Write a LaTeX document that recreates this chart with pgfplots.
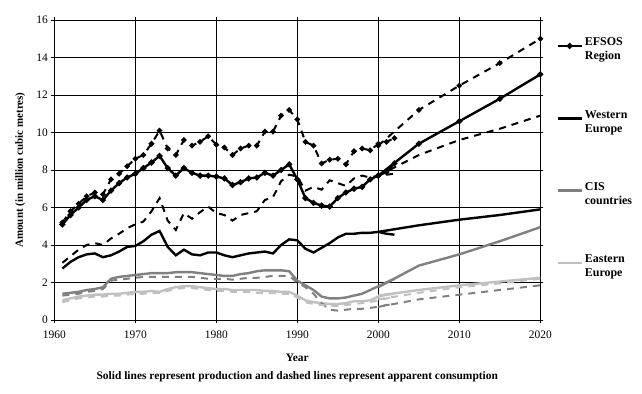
\documentclass[border=0pt]{standalone}
\usepackage{fontspec}
\setmainfont{Liberation Serif}
\usepackage{pgfplots}
\pgfplotsset{compat=1.18}
\definecolor{cisgray}{RGB}{128,128,128}
\definecolor{eegray}{RGB}{192,192,192}
\newcommand{\legtxt}[2]{\begin{tabular}[t]{@{}l@{}}#1\\#2\end{tabular}}
\begin{document}
\begin{tikzpicture}
\useasboundingbox (-54.3bp,-74bp) rectangle (587.7bp,320bp);
\begin{axis}[
  scale only axis, width=486bp, height=300bp,
  xmin=1960, xmax=2020, ymin=0, ymax=16,
  xtick={1960,1970,...,2020}, ytick={0,2,...,16},
  grid=major, major grid style={black, line width=0.8bp},
  axis line style={black, line width=0.8bp},
  tick style={black, line width=0.8bp},
  tick align=outside, major tick length=3bp,
  /pgf/number format/assume math mode=true,
  x tick label style={/pgf/number format/1000 sep={}, font=\fontsize{11.5}{13}\selectfont, yshift=-4bp},
  y tick label style={font=\fontsize{11.5}{13}\selectfont},
  ylabel={Amount (in million cubic metres)},
  ylabel style={font=\bfseries\fontsize{11}{13}\selectfont, at={(axis description cs:-0.07,0.5)}, anchor=center, rotate=0},
  xlabel={Year\\[5bp]Solid lines represent production and dashed lines represent apparent consumption},
  xlabel style={font=\bfseries\fontsize{11.5}{14}\selectfont, align=center, at={(axis description cs:0.5,0)}, anchor=north, yshift=-30bp},
  legend style={draw=none, fill=none, at={(axis description cs:1,1)}, anchor=north west, xshift=16bp, yshift=-16bp, inner sep=0pt, row sep=61bp, column sep=2bp, font=\bfseries\fontsize{12}{14}\selectfont, nodes={inner sep=0pt, anchor=base west}},
  legend cell align=left,
  legend image code/.code={\draw[mark repeat=2,mark phase=2,#1] plot coordinates {(0bp,0bp) (12bp,0bp) (24bp,0bp)};},
]
% EFSOS production historical
\addplot[black, line width=2.4bp, mark=*, mark size=1.6bp] table {
1961 5.1
1962 5.6
1963 6.0
1964 6.4
1965 6.6
1966 6.4
1967 6.9
1968 7.3
1969 7.6
1970 7.8
1971 8.1
1972 8.4
1973 8.75
1974 8.1
1975 7.7
1976 8.1
1977 7.85
1978 7.7
1979 7.7
1980 7.65
1981 7.55
1982 7.2
1983 7.35
1984 7.55
1985 7.6
1986 7.85
1987 7.7
1988 8.0
1989 8.3
1990 7.5
1991 6.5
1992 6.25
1993 6.1
1994 6.05
1995 6.5
1996 6.8
1997 7.0
1998 7.1
1999 7.5
2000 7.7
2001 7.9
2002 8.35
};
\addlegendentry{\legtxt{EFSOS}{Region}}
% Western Europe production
\addplot[black, line width=2.4bp] table {
1961 2.75
1962 3.1
1963 3.35
1964 3.5
1965 3.55
1966 3.35
1967 3.45
1968 3.65
1969 3.9
1970 3.95
1971 4.2
1972 4.55
1973 4.75
1974 3.9
1975 3.45
1976 3.75
1977 3.5
1978 3.45
1979 3.6
1980 3.6
1981 3.45
1982 3.35
1983 3.45
1984 3.55
1985 3.6
1986 3.65
1987 3.55
1988 4.0
1989 4.3
1990 4.25
1991 3.8
1992 3.6
1993 3.85
1994 4.1
1995 4.4
1996 4.6
1997 4.6
1998 4.65
1999 4.65
2000 4.7
2001 4.6
2002 4.55
};
\addlegendentry{\legtxt{Western}{Europe}}
% CIS production
\addplot[cisgray, line width=2.4bp] table {
1961 1.4
1962 1.45
1963 1.5
1964 1.6
1965 1.65
1966 1.75
1967 2.2
1968 2.3
1969 2.35
1970 2.4
1971 2.45
1972 2.5
1973 2.5
1974 2.5
1975 2.55
1976 2.55
1977 2.55
1978 2.5
1979 2.45
1980 2.4
1981 2.35
1982 2.35
1983 2.45
1984 2.5
1985 2.6
1986 2.65
1987 2.65
1988 2.65
1989 2.6
1990 2.1
1991 1.85
1992 1.6
1993 1.25
1994 1.15
1995 1.15
1996 1.2
1997 1.3
1998 1.4
1999 1.6
2000 1.8
2001 2.0
2002 2.2
};
\addlegendentry{\legtxt{CIS}{countries}}
% Eastern Europe production
\addplot[eegray, line width=2.4bp] table {
1961 1.05
1962 1.15
1963 1.25
1964 1.3
1965 1.35
1966 1.35
1967 1.4
1968 1.4
1969 1.45
1970 1.5
1971 1.5
1972 1.55
1973 1.5
1974 1.65
1975 1.75
1976 1.8
1977 1.8
1978 1.75
1979 1.7
1980 1.65
1981 1.65
1982 1.6
1983 1.6
1984 1.6
1985 1.6
1986 1.55
1987 1.55
1988 1.5
1989 1.5
1990 1.3
1991 1.05
1992 0.95
1993 0.9
1994 0.85
1995 0.85
1996 0.9
1997 1.0
1998 1.0
1999 1.05
2000 1.25
2001 1.35
2002 1.4
};
\addlegendentry{\legtxt{Eastern}{Europe}}
% Projections (production)
\addplot[black, line width=2.4bp, mark=*, mark size=1.6bp, forget plot] table {
2000 7.7
2005 9.4
2010 10.6
2015 11.8
2020 13.1
};
\addplot[black, line width=2.4bp, forget plot] table {
2000 4.7
2005 5.05
2010 5.35
2015 5.6
2020 5.9
};
\addplot[cisgray, line width=2.4bp, forget plot] table {
2000 1.75
2005 2.9
2010 3.5
2015 4.2
2020 4.95
};
\addplot[eegray, line width=2.4bp, forget plot] table {
2000 1.3
2005 1.6
2010 1.85
2015 2.05
2020 2.25
};
% EFSOS consumption
\addplot[black, line width=2bp, dash pattern=on 7bp off 6bp, mark=*, mark size=1.6bp, mark options={solid}, forget plot] table {
1961 5.2
1962 5.8
1963 6.2
1964 6.6
1965 6.8
1966 6.7
1967 7.5
1968 7.8
1969 8.2
1970 8.6
1971 8.8
1972 9.4
1973 10.1
1974 9.15
1975 8.8
1976 9.6
1977 9.3
1978 9.5
1979 9.8
1980 9.35
1981 9.2
1982 8.8
1983 9.15
1984 9.3
1985 9.3
1986 10.05
1987 10.05
1988 10.9
1989 11.2
1990 10.7
1991 9.5
1992 9.3
1993 8.35
1994 8.55
1995 8.6
1996 8.3
1997 9.0
1998 9.15
1999 9.05
2000 9.4
2001 9.5
2002 9.7
};
\addplot[black, line width=2bp, dash pattern=on 7bp off 6bp, mark=*, mark size=1.6bp, mark options={solid}, forget plot] table {
2000 9.3
2005 11.2
2010 12.5
2015 13.7
2020 15.0
};
% Western Europe consumption
\addplot[black, line width=2bp, dash pattern=on 7bp off 6bp, forget plot] table {
1961 3.05
1962 3.4
1963 3.75
1964 4.0
1965 4.1
1966 4.0
1967 4.35
1968 4.6
1969 4.9
1970 5.1
1971 5.25
1972 5.8
1973 6.5
1974 5.3
1975 4.8
1976 5.7
1977 5.4
1978 5.75
1979 6.05
1980 5.7
1981 5.6
1982 5.3
1983 5.6
1984 5.7
1985 5.8
1986 6.4
1987 6.55
1988 7.4
1989 7.75
1990 7.65
1991 6.9
1992 7.1
1993 6.95
1994 7.45
1995 7.3
1996 7.15
1997 7.55
1998 7.7
1999 7.6
2000 7.7
2001 7.75
2002 7.8
};
\addplot[black, line width=2bp, dash pattern=on 7bp off 6bp, forget plot] table {
2000 7.7
2005 8.8
2010 9.6
2015 10.2
2020 10.9
};
% CIS consumption
\addplot[cisgray, line width=2bp, dash pattern=on 7bp off 6bp, forget plot] table {
1961 1.3
1962 1.35
1963 1.4
1964 1.5
1965 1.55
1966 1.65
1967 2.1
1968 2.15
1969 2.2
1970 2.25
1971 2.3
1972 2.3
1973 2.3
1974 2.3
1975 2.3
1976 2.3
1977 2.3
1978 2.25
1979 2.2
1980 2.2
1981 2.2
1982 2.15
1983 2.2
1984 2.25
1985 2.25
1986 2.3
1987 2.35
1988 2.35
1989 2.35
1990 2.0
1991 1.75
1992 1.4
1993 0.9
1994 0.55
1995 0.5
1996 0.55
1997 0.6
1998 0.6
1999 0.65
2000 0.7
2001 0.8
2002 0.85
};
\addplot[cisgray, line width=2bp, dash pattern=on 7bp off 6bp, forget plot] table {
2000 0.7
2005 1.1
2010 1.35
2015 1.6
2020 1.85
};
% Eastern Europe consumption
\addplot[eegray, line width=2bp, dash pattern=on 7bp off 6bp, forget plot] table {
1961 0.95
1962 1.05
1963 1.15
1964 1.2
1965 1.25
1966 1.25
1967 1.3
1968 1.3
1969 1.35
1970 1.4
1971 1.4
1972 1.45
1973 1.45
1974 1.55
1975 1.65
1976 1.7
1977 1.7
1978 1.65
1979 1.6
1980 1.55
1981 1.55
1982 1.5
1983 1.5
1984 1.5
1985 1.45
1986 1.45
1987 1.45
1988 1.4
1989 1.4
1990 1.2
1991 0.95
1992 0.85
1993 0.8
1994 0.75
1995 0.75
1996 0.8
1997 0.85
1998 0.9
1999 0.95
2000 1.05
2001 1.15
2002 1.2
};
\addplot[eegray, line width=2bp, dash pattern=on 7bp off 6bp, forget plot] table {
2000 1.1
2005 1.45
2010 1.75
2015 1.95
2020 2.2
};
\end{axis}
\end{tikzpicture}
\end{document}
